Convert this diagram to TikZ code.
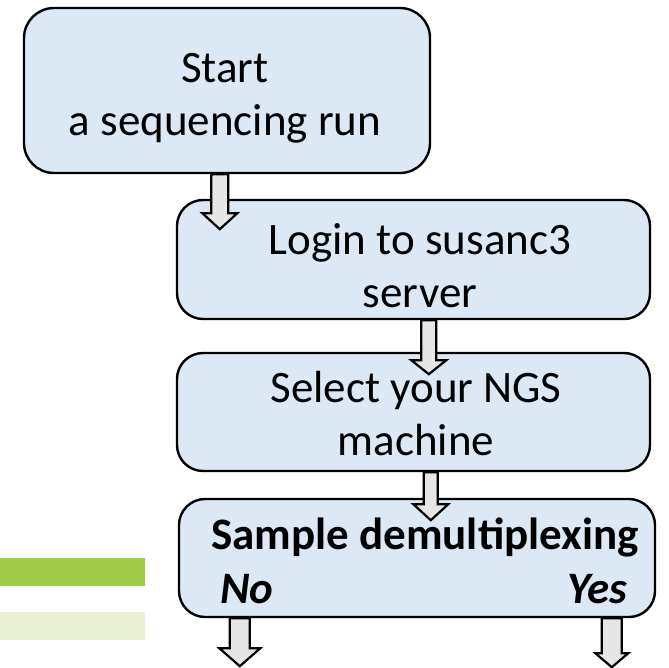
\documentclass[tikz,border=0pt]{standalone}
\usepackage{fontspec}
\setmainfont{Carlito}
\usetikzlibrary{calc}
\definecolor{boxblue}{RGB}{221,232,245}
\definecolor{arrowgray}{RGB}{230,230,230}
\definecolor{bargreen}{RGB}{159,203,72}
\definecolor{barpale}{RGB}{234,241,211}
\tikzset{
  stepbox/.style={draw=black, line width=2.4pt, fill=boxblue, rounded corners=26pt,
    align=center, inner sep=0pt, font=\fontsize{45}{52}\selectfont},
  blockarrow/.style={draw=black, line width=2.2pt, fill=arrowgray, line join=miter},
  boxlabel/.style={inner sep=0pt, font=\fontsize{45}{53}\selectfont}
}
% block arrow: #1 start point, #2 length, #3 shaft half width, #4 head half width, #5 head length
\newcommand{\blockarr}[5]{%
  \draw[blockarrow] ($#1+(-#3,0)$) -- ($#1+(#3,0)$) -- ($#1+(#3,-#2+#5)$) -- ($#1+(#4,-#2+#5)$)
    -- ($#1+(0,-#2)$) -- ($#1+(-#4,-#2+#5)$) -- ($#1+(-#3,-#2+#5)$) -- cycle;}
\begin{document}
\begin{tikzpicture}[x=1pt,y=1pt]
\useasboundingbox (0,0) rectangle (668,-668);

% decorative bars on the left
\fill[bargreen] (0,-558) rectangle (145,-586);
\fill[barpale] (0,-612) rectangle (145,-640);

% process steps
\node[stepbox, rounded corners=30pt, minimum width=406pt, minimum height=165pt] (start) at (227,-90.5) {};
\node[boxlabel, align=center] (starttext) at (225,-98) {Start\\a sequencing run};
\node[stepbox, minimum width=473pt, minimum height=119pt] (login) at (413.5,-259.5) {};
\node[boxlabel, align=center] (logintext) at (420,-266) {Login to susanc3\\server};
\node[stepbox, minimum width=473pt, minimum height=118pt] (select) at (413.5,-412) {};
\node[boxlabel, align=center] (selecttext) at (416,-414) {Select your NGS\\machine};
\node[stepbox, minimum width=476pt, minimum height=118pt] (demux) at (417,-558) {};
\node[boxlabel, font=\fontsize{45}{52}\selectfont\bfseries] (demuxtext) at (425,-537) {Sample demultiplexing};
\node[boxlabel, font=\fontsize{45}{52}\selectfont\bfseries\itshape] (no) at (247,-589) {No};
\node[boxlabel, font=\fontsize{45}{52}\selectfont\bfseries\itshape] (yes) at (597,-589) {Yes};

% connecting block arrows
\coordinate (a1) at ($(start.south west)+(197,0)$);
\coordinate (a2) at ($(login.south west)+(253,0)$);
\coordinate (a3) at ($(select.south west)+(255,0)$);
\coordinate (a4) at ($(demux.south west)+(62,0)$);
\coordinate (a5) at ($(demux.south west)+(434,0)$);
\blockarr{(a1)}{55}{8.5}{17.5}{16}
\blockarr{(a2)}{54}{7.5}{17.5}{14}
\blockarr{(a3)}{48}{7}{17.5}{16}
\blockarr{(a4)}{48}{10}{20.5}{18}
\blockarr{(a5)}{49}{10}{16.5}{14}
\end{tikzpicture}
\end{document}
